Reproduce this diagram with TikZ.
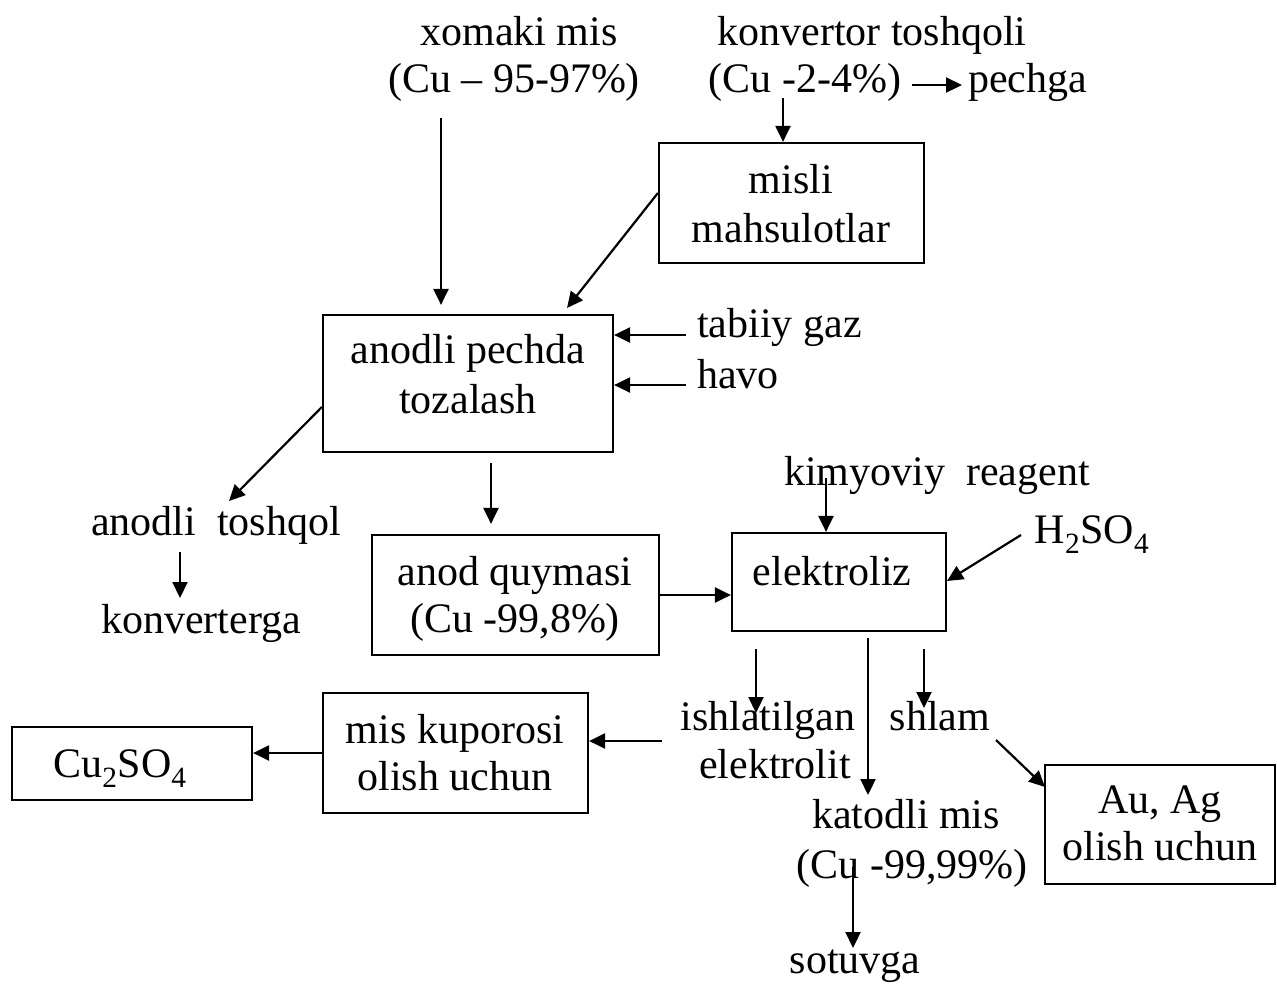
\documentclass[tikz,border=0pt]{standalone}
\usepackage{fontspec}
\setmainfont{Liberation Serif}
\usetikzlibrary{arrows.meta}
\begin{document}
\begin{tikzpicture}[x=1pt,y=-1pt,
  every node/.style={font=\fontsize{42}{48}\selectfont},
  box/.style={draw,line width=2.2pt,inner sep=0pt},
  txt/.style={inner sep=0pt,anchor=base},
  arr/.style={line width=2.2pt,-{Triangle[length=16pt,width=15pt]}}]
\useasboundingbox (0,0) rectangle (1277,983);
% boxes
\node[box,minimum width=265pt,minimum height=120pt] (misli) at (791.5,203) {};
\node[box,minimum width=290pt,minimum height=137pt] (pech) at (468,383.5) {};
\node[box,minimum width=287pt,minimum height=120pt] (anod) at (515.5,595) {};
\node[box,minimum width=214pt,minimum height=98pt] (elek) at (839,582) {};
\node[box,minimum width=265pt,minimum height=120pt] (kup) at (455.5,753) {};
\node[box,minimum width=240pt,minimum height=73pt] (cuso) at (132,763.5) {};
\node[box,minimum width=230pt,minimum height=119pt] (auag) at (1160,824.5) {};
% texts
\node[txt] (xom1) at (519,45) {xomaki mis};
\node[txt] (xom2) at (514,92) {(Cu – 95-97\%)};
\node[txt] (kon1) at (872,45) {konvertor toshqoli};
\node[txt] (kon2) at (805,92) {(Cu -2-4\%)};
\node[txt,anchor=base west] (pechga) at (968,92) {pechga};
\node[txt] (misli1) at (791,193) {misli};
\node[txt] (misli2) at (791,242) {mahsulotlar};
\node[txt] (pech1) at (468,363) {anodli pechda};
\node[txt] (pech2) at (468,413) {tozalash};
\node[txt,anchor=base west] (gaz) at (697,337) {tabiiy gaz};
\node[txt,anchor=base west] (havo) at (697,388) {havo};
\node[txt] (tosh) at (216,535) {anodli\ \ toshqol};
\node[txt] (konv) at (201,633) {konverterga};
\node[txt] (anod1) at (515,585) {anod quymasi};
\node[txt] (anod2) at (515,632) {(Cu -99,8\%)};
\node[txt] (elekt) at (832,585) {elektroliz};
\node[txt] (kim) at (937,485) {kimyoviy\ \ reagent};
\node[txt] (h2so4) at (1092,543) {H\textsubscript{2}SO\textsubscript{4}};
\node[txt] (ish1) at (768,730) {ishlatilgan};
\node[txt] (ish2) at (775,778) {elektrolit};
\node[txt] (shlam) at (940,730) {shlam};
\node[txt] (kat1) at (906,828) {katodli mis};
\node[txt] (kat2) at (912,878) {(Cu -99,99\%)};
\node[txt] (sot) at (855,973) {sotuvga};
\node[txt] (au1) at (1160,813) {Au, Ag};
\node[txt] (au2) at (1160,860) {olish uchun};
\node[txt] (kup1) at (455,743) {mis kuporosi};
\node[txt] (kup2) at (455,790) {olish uchun};
\node[txt] (cu) at (120,777) {Cu\textsubscript{2}SO\textsubscript{4}};
% connector end points
\coordinate (c1) at (441,118);
\coordinate (c2) at (783,98);
\coordinate (c3) at (912,85);
\coordinate (c4e) at (567,308);
\coordinate (c5) at (686,335);
\coordinate (c6) at (686,385);
\coordinate (c7e) at (229,501);
\coordinate (c8) at (180,552);
\coordinate (c8e) at (180,598);
\coordinate (c9) at (491,463);
\coordinate (c11) at (826,478);
\coordinate (c12) at (1021,535);
\coordinate (c12e) at (947,581);
\coordinate (c13) at (756,649);
\coordinate (c13e) at (756,713);
\coordinate (c14) at (868,638);
\coordinate (c14e) at (868,795);
\coordinate (c15) at (924,649);
\coordinate (c15e) at (924,708);
\coordinate (c16) at (996,740);
\coordinate (c16e) at (1045,787);
\coordinate (c17) at (853,867);
\coordinate (c17e) at (853,948);
\coordinate (c18) at (662,741);
% connectors
\draw[arr,shorten >=9pt] (c1) -- (c1 |- pech.north);
\draw[arr] (c2) -- (c2 |- misli.north);
\draw[arr,shorten >=6pt] (c3) -- (c3 -| pechga.west);
\draw[arr] ([yshift=10pt]misli.west) -- (c4e);
\draw[arr] (c5) -- (c5 -| pech.east);
\draw[arr] (c6) -- (c6 -| pech.east);
\draw[arr] ([yshift=-23.5pt]pech.west) -- (c7e);
\draw[arr] (c8) -- (c8e);
\draw[arr,shorten >=10pt] (c9) -- (c9 |- anod.north);
\draw[arr] (anod.east) -- (anod.east -| elek.west);
\draw[arr] (c11) -- (c11 |- elek.north);
\draw[arr] (c12) -- (c12e);
\draw[arr] (c13) -- (c13e);
\draw[arr] (c14) -- (c14e);
\draw[arr] (c15) -- (c15e);
\draw[arr] (c16) -- (c16e);
\draw[arr] (c17) -- (c17e);
\draw[arr] (c18) -- (c18 -| kup.east);
\draw[arr] (kup.west) -- (kup.west -| cuso.east);
\end{tikzpicture}
\end{document}
